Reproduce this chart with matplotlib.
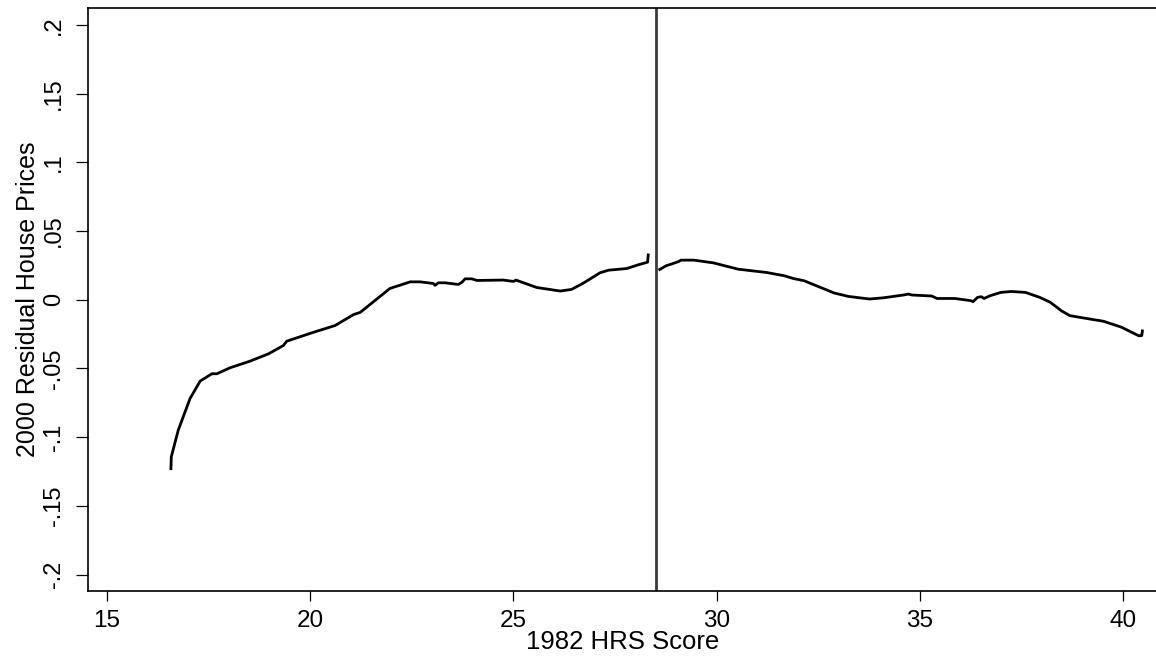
import matplotlib
matplotlib.use("Agg")
import matplotlib.pyplot as plt

# Left of cutoff
left_x = [16.57, 16.58, 16.75, 17.04, 17.29, 17.58, 17.70, 18.03, 18.52, 18.97, 19.34, 19.42,
          20.08, 20.61, 21.06, 21.23, 21.96, 22.46, 22.70, 23.03, 23.07, 23.15, 23.32, 23.64,
          23.73, 23.81, 23.97, 24.10, 24.75, 25.00, 25.06, 25.57, 26.15, 26.43, 26.72, 27.13,
          27.34, 27.79, 28.07, 28.30, 28.32]
left_y = [-0.124, -0.1143, -0.095, -0.072, -0.0592, -0.0539, -0.0539, -0.0495, -0.0447, -0.0394,
          -0.0333, -0.0302, -0.0237, -0.0188, -0.0109, -0.0092, 0.0082, 0.0130, 0.0130, 0.0118,
          0.0104, 0.0123, 0.0123, 0.0111, 0.0126, 0.0152, 0.0152, 0.0140, 0.0143, 0.0133,
          0.0143, 0.0089, 0.0063, 0.0075, 0.0121, 0.0196, 0.0215, 0.0227, 0.0254, 0.0273, 0.0336]

# Right of cutoff
right_x = [28.57, 28.75, 29.07, 29.12, 29.44, 29.92, 30.53, 31.23, 31.67, 31.89, 32.15, 32.89,
           33.24, 33.76, 34.11, 34.59, 34.72, 34.81, 35.29, 35.42, 35.86, 36.25, 36.31, 36.42,
           36.51, 36.58, 36.73, 36.99, 37.25, 37.60, 37.95, 38.21, 38.48, 38.69, 39.17, 39.52,
           39.96, 40.39, 40.46, 40.48]
right_y = [0.0215, 0.0246, 0.0278, 0.0288, 0.0288, 0.0268, 0.0222, 0.0198, 0.0174, 0.0154,
           0.0138, 0.0049, 0.0024, 0.0005, 0.0014, 0.0034, 0.0041, 0.0034, 0.0027, 0.0009,
           0.0009, -0.0007, -0.0014, 0.0017, 0.0022, 0.0009, 0.0029, 0.0053, 0.0060, 0.0053,
           0.0017, -0.0019, -0.0080, -0.0116, -0.0140, -0.0157, -0.0200, -0.0263, -0.0261, -0.0217]

cutoff = 28.5

x_ticks = [15, 20, 25, 30, 35, 40]
x_ticklabels = ["15", "20", "25", "30", "35", "40"]
y_ticks = [0.2, 0.15, 0.1, 0.05, 0, -0.05, -0.1, -0.15, -0.2]
y_ticklabels = [".2", ".15", ".1", ".05", "0", "-.05", "-.1", "-.15", "-.2"]

plt.rcParams['font.family'] = ['Liberation Sans', 'DejaVu Sans']

W, H = 1156, 660
fig = plt.figure(figsize=(W / 100, H / 100), dpi=100)
ax = fig.add_axes([88 / W, (H - 591) / H, (1158 - 88) / W, (591 - 8) / H])

ax.plot(left_x, left_y, color='black', lw=2.0, solid_joinstyle='round', solid_capstyle='butt')
ax.plot(right_x, right_y, color='black', lw=2.0, solid_joinstyle='round', solid_capstyle='butt')
ax.axvline(cutoff, color='#3a3a3a', lw=2.0)

ax.set_xlim(14.53, 40.86)
ax.set_ylim(-0.212, 0.2123)

ax.set_xticks(x_ticks)
ax.set_xticklabels(x_ticklabels, fontsize=17.5)
ax.set_yticks(y_ticks)
ax.set_yticklabels(y_ticklabels, fontsize=17, rotation=90, va='center')

ax.tick_params(axis='x', length=7.5, width=0.9, pad=6, direction='out')
ax.tick_params(axis='y', length=8.5, width=0.9, pad=8, direction='out')

for s in ['left', 'bottom', 'top']:
    ax.spines[s].set_linewidth(1.2)
    ax.spines[s].set_color('black')
ax.spines['right'].set_visible(False)

ax.set_xlabel("1982 HRS Score", fontsize=18.5, labelpad=-1)
ax.set_ylabel("2000 Residual House Prices", fontsize=18, labelpad=2)

fig.savefig("out.png", dpi=100, facecolor='white')
